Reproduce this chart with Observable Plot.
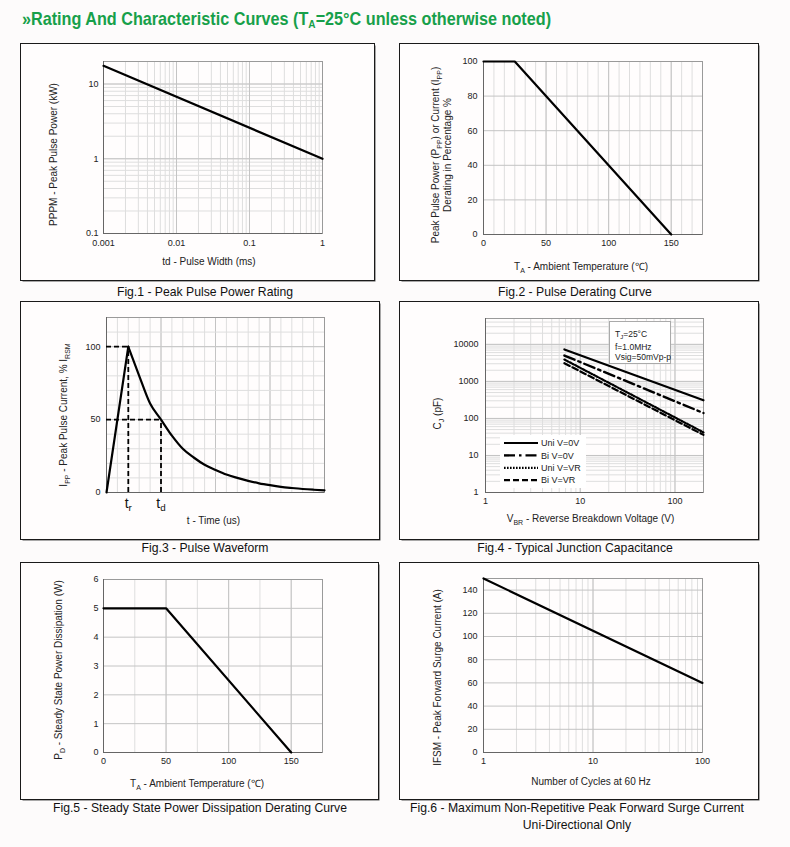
<!DOCTYPE html>
<html><head><meta charset="utf-8">
<script src="https://cdn.jsdelivr.net/npm/d3@7"></script>
<script src="https://cdn.jsdelivr.net/npm/@observablehq/plot@0.6"></script>
<style>
body{margin:0;background:#fdfbfb;font-family:"Liberation Sans",Arial,sans-serif;}
#page{position:relative;width:790px;height:847px;overflow:hidden;background:#fdfbfb}
.box{position:absolute;outline:1.5px solid #1a1a1a;box-shadow:1.5px 1.5px 0 #555;background:#fffdfd}
.box svg{position:absolute;left:0;top:0;overflow:visible}
.cap{position:absolute;font-size:12.2px;color:#111;transform:translate(-50%,-50%);white-space:nowrap;text-align:center;line-height:17px}
#title{position:absolute;left:22px;top:8px;font-family:"Liberation Sans Narrow","Arial Narrow","Liberation Sans",Arial,sans-serif;font-weight:bold;font-size:18.5px;color:#17a04a;white-space:nowrap;transform-origin:0 0;transform:scaleX(0.875)}
#title sub{font-size:11.5px;vertical-align:-3px}
.note{position:absolute;background:#fff;border:1px solid #aaa;font-size:8.5px;line-height:10px;color:#222;padding:7px 0 0 5px;box-sizing:border-box;white-space:nowrap}
.note sub{font-size:6px;vertical-align:-2px}
.legend{position:absolute;background:#fff}
</style></head>
<body><div id="page">
<div id="title">»Rating And Characteristic Curves (T<sub>A</sub>=25°C unless otherwise noted)</div>
</div>
<script>
// ---------- DATA ----------
// Fig.1 Peak Pulse Power Rating (log-log)
const f1Width = [0.001, 1];          // ms
const f1Power = [17.5, 1];           // kW
const f1XTicks = [0.001, 0.01, 0.1, 1];
const f1YTicks = [0.1, 1, 10];

// Fig.2 Pulse Derating Curve
const f2Temp = [0, 25, 150];
const f2Pct = [100, 100, 0];
const f2XTicks = [0, 50, 100, 150];
const f2YTicks = [0, 20, 40, 60, 80, 100];

// Fig.3 Pulse Waveform
const f3RiseTime = [0, 10];
const f3RiseCurrent = [0, 100];
const f3DecayTime = [10, 15, 20, 25, 30, 35, 40, 45, 50, 55, 60, 65, 70, 75, 80, 85, 90, 95, 100];
const f3DecayCurrent = [100, 80, 61, 50, 39, 30, 24, 19, 15.5, 12.3, 10, 8, 6.3, 5, 3.9, 3.1, 2.4, 1.9, 1.5];
const f3Tr = 10, f3Td = 25;
const f3YTicks = [0, 50, 100];
const f3XLabels = [{x: f3Tr, t: "t_{r}"}, {x: f3Td, t: "t_{d}"}];

// Fig.4 Typical Junction Capacitance
const f4Series = ["Uni V=0V", "Bi V=0V", "Uni V=VR", "Bi V=VR"];
const f4Voltage = [6.8, 200];
const f4UniV0 = [7300, 310];
const f4BiV0 = [5000, 140];
const f4UniVR = [3900, 42];
const f4BiVR = [3100, 36];
const f4XTicks = [1, 10, 100];
const f4YTicks = [1, 10, 100, 1000, 10000];

// Fig.5 Steady State Power Dissipation Derating
const f5Temp = [0, 50, 150];
const f5Power = [5, 5, 0];
const f5XTicks = [0, 50, 100, 150];
const f5YTicks = [0, 1, 2, 3, 4, 5, 6];

// Fig.6 Max Non-Repetitive Peak Forward Surge Current
const f6Cycles = [1, 100];
const f6Current = [150, 60];
const f6XTicks = [1, 10, 100];
const f6YTicks = [0, 20, 40, 60, 80, 100, 120, 140];

// ---------- HELPERS ----------
const minorC = "#dedede", majorC = "#c4c4c4", FONT = "'Liberation Sans', Arial, sans-serif";
const page = document.getElementById("page");
const logTicks = (a, b) => d3.scaleLog().domain([a, b]).ticks();
const step = (a, b, s) => d3.range(a, b + s / 1000, s);

function subify(root) {
  root.querySelectorAll("text").forEach(t => {
    const s = t.textContent;
    if (!s.includes("_{")) return;
    t.textContent = "";
    s.split(/(_\{[^}]*\})/).forEach(p => {
      if (!p) return;
      const ts = document.createElementNS("http://www.w3.org/2000/svg", "tspan");
      if (p.startsWith("_{")) {
        ts.textContent = p.slice(2, -1);
        ts.setAttribute("font-size", "70%");
        ts.setAttribute("baseline-shift", "-2.5");
      } else ts.textContent = p;
      t.appendChild(ts);
    });
  });
}

function box(left, top, w, h, svg) {
  const d = document.createElement("div");
  d.className = "box";
  Object.assign(d.style, {left: left + "px", top: top + "px", width: w + "px", height: h + "px"});
  d.appendChild(svg);
  page.appendChild(d);
  subify(svg);
}
function caption(cx, cy, html) {
  const d = document.createElement("div");
  d.className = "cap";
  d.style.left = cx + "px"; d.style.top = cy + "px";
  d.innerHTML = html;
  page.appendChild(d);
}
function frameMarks(x0, y0) {
  return [
    Plot.frame({stroke: "#9a9a9a"}),
    Plot.ruleX([x0], {stroke: "#666"}),
    Plot.ruleY([y0], {stroke: "#666"})
  ];
}
function ylab(text, dx, dy) {
  return Plot.text([text], {text: d => d, frameAnchor: "left", textAnchor: "middle", lineAnchor: "middle", rotate: -90, dx, dy, fontSize: 10, fill: "#222"});
}
function xlab(text, dx, dy) {
  return Plot.text([text], {text: d => d, frameAnchor: "bottom", textAnchor: "middle", lineAnchor: "middle", dx, dy, fontSize: 10, fill: "#222"});
}
const fmt = d => String(d);
function plot(o) {
  return Plot.plot({
    width: o.w, height: o.h, marginLeft: o.ml, marginRight: o.mr, marginTop: o.mt, marginBottom: o.mb,
    style: {background: "transparent", fontFamily: FONT, fontSize: "9px", color: "#222"},
    x: o.x, y: o.y, marks: o.marks
  });
}

// ---------- FIG 1 ----------
box(21, 44, 353, 236, plot({
  w: 353, h: 236, ml: 82, mr: 52, mt: 17, mb: 47,
  x: {type: "log", domain: [0.001, 1]},
  y: {type: "log", domain: [0.1, 20]},
  marks: [
    Plot.gridX(logTicks(0.001, 1), {stroke: minorC, strokeOpacity: 1}),
    Plot.gridY(logTicks(0.1, 20), {stroke: minorC, strokeOpacity: 1}),
    Plot.gridX(f1XTicks, {stroke: majorC, strokeOpacity: 1}),
    Plot.gridY(f1YTicks, {stroke: majorC, strokeOpacity: 1}),
    ...frameMarks(0.001, 0.1),
    Plot.axisX(f1XTicks, {tickSize: 0, tickPadding: 6, tickFormat: fmt, label: null}),
    Plot.axisY(f1YTicks, {tickSize: 0, tickPadding: 5, tickFormat: fmt, label: null}),
    Plot.line(d3.zip(f1Width, f1Power), {x: d => d[0], y: d => d[1], stroke: "#000", strokeWidth: 2.2}),
    xlab("td - Pulse Width (ms)", -4, 28),
    ylab("PPPM - Peak Pulse Power (kW)", -50, 7)
  ]
}));
caption(205, 292, "Fig.1 - Peak Pulse Power Rating");

// ---------- FIG 2 ----------
box(400, 44, 358, 236, plot({
  w: 358, h: 236, ml: 83, mr: 56, mt: 17, mb: 46,
  x: {domain: [0, 175]},
  y: {domain: [0, 100]},
  marks: [
    Plot.gridX(step(0, 175, 50 / 6), {stroke: minorC, strokeOpacity: 1}),
    Plot.gridX(f2XTicks, {stroke: majorC, strokeOpacity: 1}),
    Plot.gridY(f2YTicks, {stroke: majorC, strokeOpacity: 1}),
    ...frameMarks(0, 0),
    Plot.axisX(f2XTicks, {tickSize: 0, tickPadding: 5.5, tickFormat: fmt, label: null}),
    Plot.axisY(f2YTicks, {tickSize: 0, tickPadding: 6, tickFormat: fmt, label: null}),
    Plot.line(d3.zip(f2Temp, f2Pct), {x: d => d[0], y: d => d[1], stroke: "#000", strokeWidth: 2.2}),
    xlab("T_{A} - Ambient Temperature (℃)", -12, 32),
    ylab("Peak Pulse Power (P_{PP}) or Current (I_{PP})", -48, 7),
    ylab("Derating in Percentage %", -36, 7)
  ]
}));
caption(575, 292, "Fig.2 - Pulse Derating Curve");

// ---------- FIG 3 ----------
const dash = {stroke: "#000", strokeWidth: 1.8, strokeDasharray: "5,3"};
box(21, 302, 358, 237, plot({
  w: 358, h: 237, ml: 85, mr: 55, mt: 15, mb: 47,
  x: {domain: [0, 100], axis: null},
  y: {domain: [0, 120]},
  marks: [
    Plot.gridX(step(0, 100, 5), {stroke: minorC, strokeOpacity: 1}),
    Plot.gridX(step(0, 100, 25), {stroke: majorC, strokeOpacity: 1}),
    Plot.gridY(step(0, 120, 10), {stroke: minorC, strokeOpacity: 1}),
    Plot.gridY(f3YTicks, {stroke: majorC, strokeOpacity: 1}),
    ...frameMarks(0, 0),
    Plot.axisY(f3YTicks, {tickSize: 0, tickPadding: 6, tickFormat: fmt, label: null}),
    Plot.ruleY([100], {x1: 0, x2: f3Tr, ...dash}),
    Plot.ruleX([f3Tr], {y1: 0, y2: 100, ...dash}),
    Plot.ruleY([50], {x1: 0, x2: f3Td, ...dash}),
    Plot.ruleX([f3Td], {y1: 0, y2: 50, ...dash}),
    Plot.line(d3.zip(f3RiseTime, f3RiseCurrent), {x: d => d[0], y: d => d[1], stroke: "#000", strokeWidth: 2.2}),
    Plot.line(d3.zip(f3DecayTime, f3DecayCurrent), {x: d => d[0], y: d => d[1], stroke: "#000", strokeWidth: 2.2, curve: "monotone-x"}),
    Plot.text(f3XLabels, {x: "x", text: "t", frameAnchor: "bottom", lineAnchor: "middle", dy: 11, fontSize: 14, fill: "#111"}),
    xlab("t - Time (us)", -2, 28),
    ylab("I_{PP} - Peak Pulse Current, % I_{RSM}", -43, 10)
  ]
}));
caption(205, 548, "Fig.3 - Pulse Waveform");

// ---------- FIG 4 ----------
const f4Values = [f4UniV0, f4BiV0, f4UniVR, f4BiVR];
const f4Style = [
  {strokeWidth: 2.2, strokeDasharray: null},
  {strokeWidth: 2.4, strokeDasharray: "11,4,2.5,4"},
  {strokeWidth: 2.2, strokeDasharray: "1.6,1.4"},
  {strokeWidth: 2.2, strokeDasharray: "6,3"}
];
const f4Rows = f4Series.flatMap((s, i) => f4Voltage.map((v, j) => ({s, v, c: f4Values[i][j]})));
box(400, 302, 358, 237, plot({
  w: 358, h: 237, ml: 85, mr: 55, mt: 16, mb: 47,
  x: {type: "log", domain: [1, 200]},
  y: {type: "log", domain: [1, 50000]},
  marks: [
    Plot.gridX(logTicks(1, 200), {stroke: minorC, strokeOpacity: 1}),
    Plot.gridY(logTicks(1, 50000), {stroke: minorC, strokeOpacity: 1}),
    Plot.gridX(f4XTicks, {stroke: majorC, strokeOpacity: 1}),
    Plot.gridY(f4YTicks, {stroke: majorC, strokeOpacity: 1}),
    ...frameMarks(1, 1),
    Plot.axisX(f4XTicks, {tickSize: 0, tickPadding: 5.5, tickFormat: fmt, label: null}),
    Plot.axisY(f4YTicks, {tickSize: 0, tickPadding: 7, tickFormat: fmt, label: null}),
    ...f4Series.map((s, i) => Plot.line(f4Rows.filter(r => r.s === s), {x: "v", y: "c", stroke: "#000", ...f4Style[i]})),
    xlab("V_{BR} - Reverse Breakdown Voltage (V)", -4, 26),
    ylab("C_{J} (pF)", -48, 8)
  ]
}));
caption(575, 548, "Fig.4 - Typical Junction Capacitance");
// note box
const note = document.createElement("div");
note.className = "note";
Object.assign(note.style, {left: "609px", top: "321px", width: "62px", height: "43px"});
note.innerHTML = "T<sub>J</sub>=25°C<br>f=1.0MHz<br>Vsig=50mVp-p";
page.appendChild(note);
// legend
const lg = document.createElement("div");
lg.className = "legend";
Object.assign(lg.style, {left: "500px", top: "435px", width: "86px", height: "53px"});
const lsvg = d3.create("svg").attr("width", 86).attr("height", 53).style("overflow", "visible");
f4Series.forEach((s, i) => {
  const y = 8 + i * 12.4;
  lsvg.append("line").attr("x1", 4).attr("x2", 38).attr("y1", y).attr("y2", y)
    .attr("stroke", "#000").attr("stroke-width", f4Style[i].strokeWidth)
    .attr("stroke-dasharray", f4Style[i].strokeDasharray);
  lsvg.append("text").attr("x", 41).attr("y", y).attr("dy", "0.35em")
    .attr("font-size", 9).attr("font-family", FONT).attr("fill", "#222").text(s);
});
lg.appendChild(lsvg.node());
page.appendChild(lg);

// ---------- FIG 5 ----------
box(21, 563, 357, 236, plot({
  w: 357, h: 236, ml: 82, mr: 56, mt: 16, mb: 47,
  x: {domain: [0, 175]},
  y: {domain: [0, 6]},
  marks: [
    Plot.gridX(step(0, 175, 25), {stroke: minorC, strokeOpacity: 1}),
    Plot.gridX(f5XTicks, {stroke: majorC, strokeOpacity: 1}),
    Plot.gridY(f5YTicks, {stroke: majorC, strokeOpacity: 1}),
    ...frameMarks(0, 0),
    Plot.axisX(f5XTicks, {tickSize: 0, tickPadding: 5.5, tickFormat: fmt, label: null}),
    Plot.axisY(f5YTicks, {tickSize: 0, tickPadding: 5, tickFormat: fmt, label: null}),
    Plot.line(d3.zip(f5Temp, f5Power), {x: d => d[0], y: d => d[1], stroke: "#000", strokeWidth: 2.2}),
    xlab("T_{A} - Ambient Temperature (℃)", -16, 31),
    ylab("P_{D} - Steady State Power Dissipation (W)", -45, 4)
  ]
}));
caption(200, 808, "Fig.5 - Steady State Power Dissipation Derating Curve");

// ---------- FIG 6 ----------
box(400, 563, 358, 236, plot({
  w: 358, h: 236, ml: 83, mr: 56, mt: 15, mb: 47,
  x: {type: "log", domain: [1, 100]},
  y: {domain: [0, 150]},
  marks: [
    Plot.gridX(logTicks(1, 100), {stroke: minorC, strokeOpacity: 1}),
    Plot.gridX(f6XTicks, {stroke: majorC, strokeOpacity: 1}),
    Plot.gridY(f6YTicks, {stroke: majorC, strokeOpacity: 1}),
    ...frameMarks(1, 0),
    Plot.axisX(f6XTicks, {tickSize: 0, tickPadding: 5, tickFormat: fmt, label: null}),
    Plot.axisY(f6YTicks, {tickSize: 0, tickPadding: 6, tickFormat: fmt, label: null}),
    Plot.line(d3.zip(f6Cycles, f6Current), {x: d => d[0], y: d => d[1], stroke: "#000", strokeWidth: 2.2}),
    xlab("Number of Cycles at 60 Hz", -2, 29),
    ylab("IFSM - Peak Forward Surge Current (A)", -46, 12)
  ]
}));
caption(577, 817, "Fig.6 - Maximum Non-Repetitive Peak Forward Surge Current<br>Uni-Directional Only");
</script>
</body></html>
